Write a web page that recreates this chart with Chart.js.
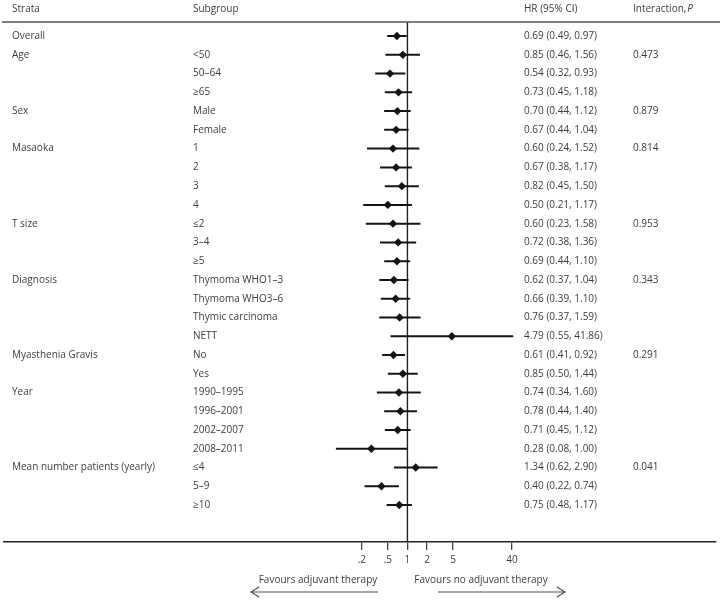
<!DOCTYPE html>
<html>
<head>
<meta charset="utf-8">
<script src="https://cdn.jsdelivr.net/npm/chart.js@4/dist/chart.umd.min.js"></script>
<style>
  html, body { margin: 0; padding: 0; background: #fff; }
  #wrap { width: 720px; height: 600px; }
</style>
</head>
<body>
<div id="wrap"><canvas id="forest" width="720" height="600"></canvas></div>
<script>
'use strict';

// ---- data ----
const strata = ['Overall', 'Age', '', '', 'Sex', '', 'Masaoka', '', '', '', 'T size', '', '',
  'Diagnosis', '', '', '', 'Myasthenia Gravis', '', 'Year', '', '', '', 'Mean number patients (yearly)', '', ''];
const subgroups = ['', '<50', '50–64', '≥65', 'Male', 'Female', '1', '2', '3', '4', '≤2', '3–4', '≥5',
  'Thymoma WHO1–3', 'Thymoma WHO3–6', 'Thymic carcinoma', 'NETT', 'No', 'Yes',
  '1990–1995', '1996–2001', '2002–2007', '2008–2011', '≤4', '5–9', '≥10'];
const hr    = [0.69, 0.85, 0.54, 0.73, 0.70, 0.67, 0.60, 0.67, 0.82, 0.50, 0.60, 0.72, 0.69,
  0.62, 0.66, 0.76, 4.79, 0.61, 0.85, 0.74, 0.78, 0.71, 0.28, 1.34, 0.40, 0.75];
const lower = [0.49, 0.46, 0.32, 0.45, 0.44, 0.44, 0.24, 0.38, 0.45, 0.21, 0.23, 0.38, 0.44,
  0.37, 0.39, 0.37, 0.55, 0.41, 0.50, 0.34, 0.44, 0.45, 0.08, 0.62, 0.22, 0.48];
const upper = [0.97, 1.56, 0.93, 1.18, 1.12, 1.04, 1.52, 1.17, 1.50, 1.17, 1.58, 1.36, 1.10,
  1.04, 1.10, 1.59, 41.86, 0.92, 1.44, 1.60, 1.40, 1.12, 1.00, 2.90, 0.74, 1.17];
const pInteraction = ['', '0.473', '', '', '0.879', '', '0.814', '', '', '', '0.953', '', '',
  '0.343', '', '', '', '0.291', '', '', '', '', '', '0.041', '', ''];
const tickValues = [0.2, 0.5, 1, 2, 5, 40];
const tickLabels = ['.2', '.5', '1', '2', '5', '40'];

// ---- look ----
const FONT = '"Open Sans", "Noto Sans", sans-serif';
const TXT = '#3c3c3c';
const INK = '#141414';
const nRows = hr.length;

const fmt = (v) => v.toFixed(2);
const hrText = hr.map((v, i) => `${fmt(v)} (${fmt(lower[i])}, ${fmt(upper[i])})`);

// ---- datasets ----
const ciSets = hr.map((_, i) => ({
  data: [{ x: lower[i], y: i }, { x: upper[i], y: i }],
  showLine: true, borderColor: INK, borderWidth: 2, pointRadius: 0, order: 2
}));
const pointSet = {
  data: hr.map((v, i) => ({ x: v, y: i })),
  pointStyle: 'rectRot', pointRadius: 4.2, backgroundColor: INK, borderColor: INK, borderWidth: 0, order: 1
};
const refSet = {
  data: [{ x: 1, y: -0.75 }, { x: 1, y: nRows + 0.97 }],
  showLine: true, borderColor: '#222', borderWidth: 1.4, pointRadius: 0, order: 3
};

// ---- table text + decorations ----
const tablePlugin = {
  id: 'tableText',
  afterDraw(chart) {
    const { ctx, chartArea, scales: { y } } = chart;
    ctx.save();
    // header rule
    ctx.strokeStyle = '#555';
    ctx.lineWidth = 1.5;
    ctx.beginPath();
    ctx.moveTo(2, chartArea.top);
    ctx.lineTo(720, chartArea.top);
    ctx.stroke();

    ctx.fillStyle = TXT;
    ctx.textBaseline = 'middle';
    ctx.font = `10px ${FONT}`;
    ctx.textAlign = 'left';
    ctx.fillText('Strata', 12, 9);
    ctx.fillText('Subgroup', 193, 9);
    ctx.fillText('HR (95% CI)', 524, 9);
    const ip = 'Interaction, ';
    ctx.fillText(ip, 633, 9);
    ctx.font = `italic 10px ${FONT}`;
    ctx.fillText('P', 633 + ctx.measureText(ip).width + 1, 9);
    ctx.font = `10px ${FONT}`;

    for (let i = 0; i < nRows; i++) {
      const py = y.getPixelForValue(i);
      if (strata[i]) ctx.fillText(strata[i], 12, py);
      if (subgroups[i]) ctx.fillText(subgroups[i], 193, py);
      ctx.fillText(hrText[i], 524, py);
      if (pInteraction[i]) ctx.fillText(pInteraction[i], 633, py);
    }

    // favours labels + arrows
    ctx.textAlign = 'center';
    ctx.fillText('Favours adjuvant therapy', 318, 580);
    ctx.fillText('Favours no adjuvant therapy', 481, 580);
    ctx.strokeStyle = '#555';
    ctx.lineWidth = 1.2;
    const ay = 592;
    ctx.beginPath();
    ctx.moveTo(378, ay); ctx.lineTo(251, ay);
    ctx.moveTo(259, ay - 5); ctx.lineTo(251, ay); ctx.lineTo(259, ay + 5);
    ctx.moveTo(438, ay); ctx.lineTo(565, ay);
    ctx.moveTo(557, ay - 5); ctx.lineTo(565, ay); ctx.lineTo(557, ay + 5);
    ctx.stroke();
    ctx.restore();
  }
};

// ---- chart ----
new Chart(document.getElementById('forest').getContext('2d'), {
  type: 'scatter',
  data: { datasets: [...ciSets, pointSet, refSet] },
  options: {
    responsive: false,
    animation: false,
    layout: { padding: { top: 22, left: 0, right: 0, bottom: 0 } },
    plugins: { legend: { display: false }, tooltip: { enabled: false } },
    scales: {
      x: {
        type: 'logarithmic',
        position: 'bottom',
        min: Math.pow(10, -408 / 66),
        max: Math.pow(10, 312 / 66),
        afterBuildTicks: (s) => { s.ticks = tickValues.map(v => ({ value: v })); },
        afterFit: (s) => { s.height = 58; },
        ticks: {
          autoSkip: false, maxRotation: 0, padding: 4, color: TXT,
          font: { family: FONT, size: 10 },
          callback: (v, i) => tickLabels[i]
        },
        grid: { drawOnChartArea: false, drawTicks: true, tickLength: 8, color: '#444', lineWidth: 1.3 },
        border: { display: true, color: '#222', width: 1.5 }
      },
      y: { type: 'linear', reverse: true, min: -0.75, max: nRows + 0.97, display: false }
    }
  },
  plugins: [tablePlugin]
});
</script>
</body>
</html>
